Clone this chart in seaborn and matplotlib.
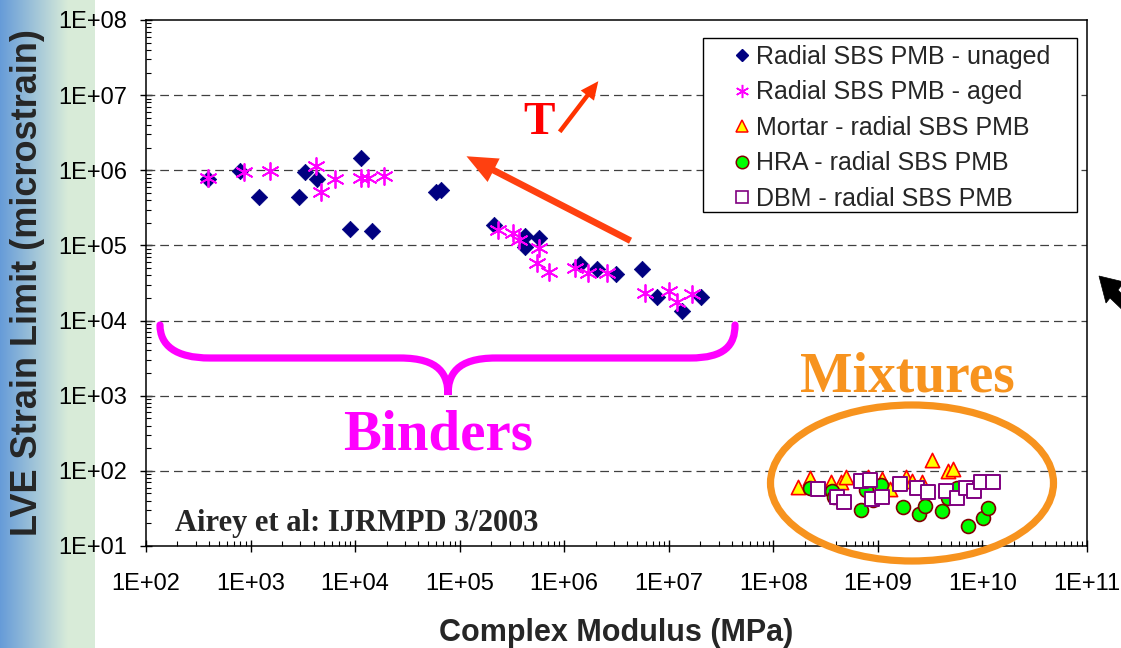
import numpy as np
import pandas as pd
import matplotlib
matplotlib.use("Agg")
import matplotlib.pyplot as plt
from matplotlib.lines import Line2D
from matplotlib.patches import Ellipse, FancyArrowPatch, PathPatch, Rectangle, Polygon
from matplotlib.path import Path
from matplotlib.ticker import LogLocator, NullFormatter
import seaborn as sns

# ---- data: complex modulus (MPa) vs LVE strain limit (microstrain) ----
unaged_modulus = [388, 791, 1210, 2910, 3350, 4360, 1.13e4, 8.87e3, 1.45e4, 5.98e4, 6.67e4,
                  2.15e5, 4.26e5, 5.79e5, 4.26e5, 1.42e6, 2.06e6, 3.13e6, 5.55e6, 7.71e6,
                  1.34e7, 2.03e7]
unaged_strain = [7.6e5, 9.9e5, 4.37e5, 4.37e5, 9.5e5, 7.6e5, 1.47e6, 1.64e5, 1.56e5, 5.19e5,
                 5.47e5, 1.87e5, 1.34e5, 1.27e5, 9.45e4, 5.66e4, 4.82e4, 4.17e4, 4.87e4,
                 2.08e4, 1.34e4, 2.04e4]

aged_modulus = [394, 869, 1530, 4270, 6380, 4760, 1.15e4, 1.33e4, 1.89e4, 2.32e5, 3.22e5,
                3.66e5, 5.79e5, 5.51e5, 7.23e5, 1.28e6, 1.68e6, 2.57e6, 5.93e6, 9.95e6,
                1.19e7, 1.65e7]
aged_strain = [7.83e5, 9.4e5, 9.9e5, 1.14e6, 7.66e5, 5.1e5, 7.97e5, 7.97e5, 8.4e5, 1.61e5,
               1.48e5, 1.18e5, 9.33e4, 5.79e4, 4.39e4, 4.97e4, 4.34e4, 4.34e4, 2.35e4,
               2.5e4, 1.75e4, 2.26e4]

mortar_modulus = [1.73e8, 2.24e8, 3.59e8, 4.42e8, 4.92e8, 8.1e8, 1.09e9, 1.32e9, 1.84e9,
                  2.13e9, 2.62e9, 3.26e9, 4.70e9, 5.25e9]
mortar_strain = [61.7, 81.2, 70.5, 70.5, 83.7, 83.7, 77.3, 57.4, 83.7, 73.4, 70.5, 140, 101, 106]

hra_modulus = [2.24e8, 3.62e8, 3.81e8, 7.64e8, 1.06e9, 6.93e8, 8.97e8, 1.74e9, 2.47e9,
               2.82e9, 4.06e9, 4.70e9, 5.73e9, 7.26e9, 1.02e10, 1.13e10]
hra_strain = [58.7, 54.0, 45.4, 55.7, 64.9, 30.2, 41.0, 32.8, 26.4, 34.4, 29.3, 43.2, 58.7,
              18.5, 23.8, 32.4]

dbm_modulus = [2.68e8, 4.09e8, 4.74e8, 6.86e8, 8.36e8, 8.73e8, 1.09e9, 1.63e9, 2.35e9,
               3.03e9, 4.45e9, 5.66e9, 6.98e9, 8.28e9, 9.73e9, 1.27e10]
dbm_strain = [56.9, 45.4, 38.2, 73.4, 75.7, 41.9, 45.4, 66.9, 58.7, 51.9, 54.0, 44.0, 58.7,
              54.0, 70.5, 71.8]

series_names = ["Radial SBS PMB - unaged", "Radial SBS PMB - aged", "Mortar - radial SBS PMB",
                "HRA - radial SBS PMB", "DBM - radial SBS PMB"]

x_tick_values = [1e2, 1e3, 1e4, 1e5, 1e6, 1e7, 1e8, 1e9, 1e10, 1e11]
x_tick_labels = ["1E+02", "1E+03", "1E+04", "1E+05", "1E+06", "1E+07", "1E+08", "1E+09",
                 "1E+10", "1E+11"]
y_tick_values = [1e1, 1e2, 1e3, 1e4, 1e5, 1e6, 1e7, 1e8]
y_tick_labels = ["1E+01", "1E+02", "1E+03", "1E+04", "1E+05", "1E+06", "1E+07", "1E+08"]

frames = []
for name, xs, ys in zip(series_names,
                        [unaged_modulus, aged_modulus, mortar_modulus, hra_modulus, dbm_modulus],
                        [unaged_strain, aged_strain, mortar_strain, hra_strain, dbm_strain]):
    frames.append(pd.DataFrame({"modulus": xs, "strain": ys, "series": name}))
df = pd.concat(frames, ignore_index=True)

# ---- styling ----
sns.set_style("ticks")
plt.rcParams["font.family"] = ["Liberation Sans", "DejaVu Sans"]
SERIF = ["Liberation Serif", "DejaVu Serif"]

W, H = 1121, 648
fig = plt.figure(figsize=(W / 100, H / 100), dpi=100)
fig.patch.set_facecolor("white")


def fx(px):
    return px / W


def fy(py):
    return 1 - py / H


# slide background strip on the left edge
bg = fig.add_axes([0, 0, fx(95), 1], zorder=-5)
grad = np.linspace(0, 1, 256)
grad = np.clip(grad / 0.72, 0, 1)
c0 = np.array([0.40, 0.61, 0.85])
c1 = np.array([0.85, 0.925, 0.85])
img = c0[None, :] * (1 - grad[:, None]) + c1[None, :] * grad[:, None]
bg.imshow(img[None, :, :], aspect="auto", extent=[0, 1, 0, 1])
bg.set_axis_off()

ax = fig.add_axes([fx(146), fy(546), fx(1087) - fx(146), fy(20) - fy(546)])
ax.set_facecolor("white")

styles = {
    series_names[0]: dict(marker="D", s=70, color="#000080", edgecolor="#000080", linewidth=0.5),
    series_names[1]: dict(marker=(6, 2, 0), s=150, color="#FF00FF", linewidth=1.3),
    series_names[2]: dict(marker="^", s=105, color="#FFFF00", edgecolor="#FF0000", linewidth=1.2),
    series_names[3]: dict(marker="o", s=100, color="#00FF00", edgecolor="#800000", linewidth=1.2),
    series_names[4]: dict(marker="s", s=100, color="white", edgecolor="#800080", linewidth=1.4),
}
for i, name in enumerate(series_names):
    sub = df[df["series"] == name]
    sns.scatterplot(data=sub, x="modulus", y="strain", ax=ax, legend=False,
                    zorder=3 + i, **styles[name])

ax.set_xscale("log")
ax.set_yscale("log")
ax.set_xlim(1e2, 1e11)
ax.set_ylim(1e1, 1e8)
ax.set_xticks(x_tick_values, x_tick_labels)
ax.set_yticks(y_tick_values, y_tick_labels)
ax.xaxis.set_minor_locator(LogLocator(base=10, subs=np.arange(2, 10), numticks=100))
ax.yaxis.set_minor_locator(LogLocator(base=10, subs=np.arange(2, 10), numticks=100))
ax.xaxis.set_minor_formatter(NullFormatter())
ax.yaxis.set_minor_formatter(NullFormatter())
ax.tick_params(which="major", direction="inout", length=9, width=1.0, colors="black",
               labelsize=17)
ax.tick_params(axis="x", which="major", pad=15)
ax.tick_params(axis="y", which="major", pad=9)
ax.tick_params(which="minor", direction="in", length=3.5, width=0.8, colors="black")
for sp in ax.spines.values():
    sp.set_visible(True)
    sp.set_color("black")
    sp.set_linewidth(1.1)

ax.grid(False)
for yv in y_tick_values[1:-1]:
    ax.axhline(yv, color="#404040", linewidth=0.9, linestyle=(0, (7, 4)), zorder=1)

ax.set_xlabel("Complex Modulus (MPa)", fontsize=22, fontweight="bold")
ax.set_ylabel("LVE Strain Limit (microstrain)", fontsize=26, fontweight="bold")
ax.xaxis.label.set_verticalalignment("center")
ax.yaxis.label.set_verticalalignment("center")
ax.xaxis.set_label_coords(0.5, (546 - 633) / 526)
ax.yaxis.set_label_coords((28 - 146) / 941, 0.5)

# ---- legend ----
handles = [
    Line2D([], [], linestyle="none", marker="D", markersize=6, color="#000080"),
    Line2D([], [], linestyle="none", marker=(6, 2, 0), markersize=9.5, color="#FF00FF",
           markeredgewidth=1.1),
    Line2D([], [], linestyle="none", marker="^", markersize=9, markerfacecolor="#FFFF00",
           markeredgecolor="#FF0000", markeredgewidth=1.1),
    Line2D([], [], linestyle="none", marker="o", markersize=9, markerfacecolor="#00FF00",
           markeredgecolor="#800000", markeredgewidth=1.1),
    Line2D([], [], linestyle="none", marker="s", markersize=8.5, markerfacecolor="white",
           markeredgecolor="#800080", markeredgewidth=1.2),
]
fig.add_artist(Rectangle((fx(703), fy(212)), fx(1077) - fx(703), fy(38) - fy(212),
                         transform=fig.transFigure, facecolor="white", edgecolor="black",
                         linewidth=1.0, zorder=4))
fig.legend(handles, series_names, loc="upper left", bbox_to_anchor=(fx(731), fy(45)),
           bbox_transform=fig.transFigure, frameon=False, fontsize=18, borderpad=0,
           borderaxespad=0, handlelength=0.85, handletextpad=0.14, labelspacing=0.46)

# ---- annotations ----
fig.text(fx(175), fy(531), "Airey et al: IJRMPD 3/2003", family=SERIF, fontweight="bold",
         fontsize=22, ha="left", va="baseline")
fig.text(fx(438), fy(450), "Binders", family=SERIF, fontweight="bold", fontsize=41,
         color="#FF00FF", ha="center", va="baseline")
fig.text(fx(907), fy(392), "Mixtures", family=SERIF, fontweight="bold", fontsize=40,
         color="#F7931E", ha="center", va="baseline")
fig.text(fx(539), fy(134), "T", family=SERIF, fontweight="bold", fontsize=34,
         color="#FF0000", ha="center", va="baseline")

# brace under the binder data
bp = [(160, 325), (160, 345), (175, 358), (210, 358),
      (400, 358), (440, 358), (448, 375), (448, 395),
      (448, 375), (456, 358), (496, 358),
      (690, 358), (725, 358), (735, 345), (735, 325)]
codes = [Path.MOVETO, Path.CURVE4, Path.CURVE4, Path.CURVE4,
         Path.LINETO, Path.CURVE4, Path.CURVE4, Path.CURVE4,
         Path.CURVE4, Path.CURVE4, Path.CURVE4,
         Path.LINETO, Path.CURVE4, Path.CURVE4, Path.CURVE4]
brace = Path([(fx(a), fy(b)) for a, b in bp], codes)
fig.add_artist(PathPatch(brace, transform=fig.transFigure, facecolor="none",
                         edgecolor="#FF00FF", linewidth=5.2, capstyle="round", zorder=6))

# ring around the mixture data
fig.add_artist(Ellipse((fx(912), fy(483)), fx(283), 156 / H, transform=fig.transFigure,
                       facecolor="none", edgecolor="#F7931E", linewidth=5.2, zorder=6))

# temperature direction arrows
fig.add_artist(FancyArrowPatch((fx(633), fy(242)), (fx(464), fy(155)),
                               transform=fig.transFigure,
                               arrowstyle="simple,head_length=2.2,head_width=1.9,tail_width=0.48",
                               mutation_scale=10, color="#FF4010", linewidth=0, zorder=6))
fig.add_artist(FancyArrowPatch((fx(558), fy(134)), (fx(600), fy(79)),
                               transform=fig.transFigure,
                               arrowstyle="simple,head_length=1.3,head_width=1.2,tail_width=0.32",
                               mutation_scale=10, color="#FF3300", linewidth=0, zorder=6))

# pointer at the right edge
pointer = [(1099, 276), (1124, 282), (1118, 290), (1140, 313), (1133, 320),
           (1110, 298), (1106, 303)]
fig.add_artist(Polygon([(fx(a), fy(b)) for a, b in pointer], closed=True,
                       transform=fig.transFigure, facecolor="black", edgecolor="black",
                       linewidth=0.5, zorder=6))

fig.savefig("out.png", dpi=100)
